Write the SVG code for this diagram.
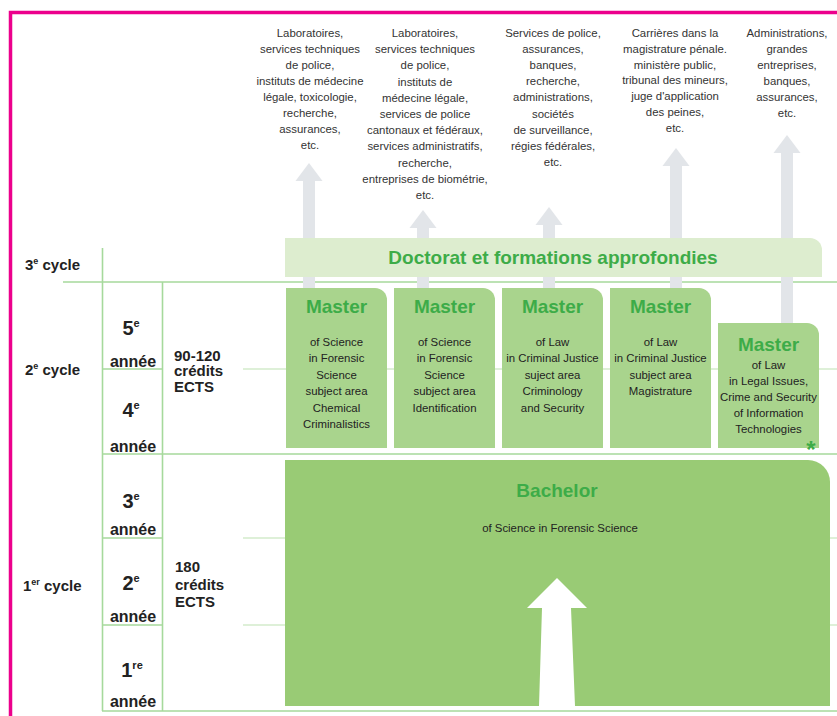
<svg xmlns="http://www.w3.org/2000/svg" width="837" height="716" viewBox="0 0 837 716">
<defs>
<style>
text{font-family:"Liberation Sans",Arial,sans-serif;}
.top{font-size:11.4px;fill:#333;text-anchor:middle;}
.mb{font-size:11.4px;fill:#222;text-anchor:middle;}
.mt{font-size:19px;font-weight:bold;fill:#3dac48;text-anchor:middle;}
.cy{font-size:15px;font-weight:bold;fill:#222;}
.yr{font-size:20px;font-weight:bold;fill:#222;text-anchor:middle;}
.an{font-size:16px;font-weight:bold;fill:#222;text-anchor:middle;}
.cr{font-size:15px;font-weight:bold;fill:#222;}
.grid{stroke:#a6d99c;stroke-width:1.6;fill:none;}
.faint{stroke:#d3ebcc;stroke-width:1.5;fill:none;}
.garrow{fill:#e2e5e9;}
.master{fill:#a9d48d;}
</style>
</defs>
<rect x="0" y="0" width="837" height="716" fill="#ffffff"/>
<path d="M10.5 716 V12.5 H837" stroke="#ec008c" stroke-width="3.5" fill="none"/>

<g id="grid">
<path class="faint" d="M243 369 H837 M243 538 H837 M243 625 H837"/>
<path class="grid" d="M102.5 248 V711 M162.5 282 V711"/>
<path class="grid" d="M63 282 H837 M102 454 H837 M102 711 H837"/>
<path class="grid" d="M102 369 H162 M102 538 H162 M102 625 H162"/>
</g>

<g id="connectors">
<polygon class="garrow" points="309,163 322.5,181 315,181 315,300 303,300 303,181 295.5,181"/>
<polygon class="garrow" points="423,210 436.5,228 429,228 429,300 417,300 417,228 409.5,228"/>
<polygon class="garrow" points="549,207 562.5,225 555,225 555,300 543,300 543,225 535.5,225"/>
<polygon class="garrow" points="676,148 689.5,166 682,166 682,300 670,300 670,166 662.5,166"/>
<polygon class="garrow" points="787,135 800.5,153 793,153 793,330 781,330 781,153 773.5,153"/>
</g>

<g id="doctorat">
<path d="M285 238 H810 A12 12 0 0 1 822 250 V277 H285 Z" fill="#ddedcf"/>
<text x="553" y="264" class="mt">Doctorat et formations approfondies</text>
</g>

<g id="master1">
<path class="master" d="M286 288 H375 A12 12 0 0 1 387 300 V448 H286 Z"/>
<text x="336.5" y="313" class="mt">Master</text>
<text class="mb" y="346"><tspan x="336.5">of Science</tspan><tspan x="336.5" dy="16.4">in Forensic</tspan><tspan x="336.5" dy="16.4">Science</tspan><tspan x="336.5" dy="16.4">subject area</tspan><tspan x="336.5" dy="16.4">Chemical</tspan><tspan x="336.5" dy="16.4">Criminalistics</tspan></text>
</g>
<g id="master2">
<path class="master" d="M394 288 H483 A12 12 0 0 1 495 300 V448 H394 Z"/>
<text x="444.5" y="313" class="mt">Master</text>
<text class="mb" y="346"><tspan x="444.5">of Science</tspan><tspan x="444.5" dy="16.4">in Forensic</tspan><tspan x="444.5" dy="16.4">Science</tspan><tspan x="444.5" dy="16.4">subject area</tspan><tspan x="444.5" dy="16.4">Identification</tspan></text>
</g>
<g id="master3">
<path class="master" d="M502 288 H591 A12 12 0 0 1 603 300 V448 H502 Z"/>
<text x="552.5" y="313" class="mt">Master</text>
<text class="mb" y="346"><tspan x="552.5">of Law</tspan><tspan x="552.5" dy="16.4">in Criminal Justice</tspan><tspan x="552.5" dy="16.4">suject area</tspan><tspan x="552.5" dy="16.4">Criminology</tspan><tspan x="552.5" dy="16.4">and Security</tspan></text>
</g>
<g id="master4">
<path class="master" d="M610 288 H699 A12 12 0 0 1 711 300 V448 H610 Z"/>
<text x="660.5" y="313" class="mt">Master</text>
<text class="mb" y="346"><tspan x="660.5">of Law</tspan><tspan x="660.5" dy="16.4">in Criminal Justice</tspan><tspan x="660.5" dy="16.4">subject area</tspan><tspan x="660.5" dy="16.4">Magistrature</tspan></text>
</g>
<g id="master5">
<path class="master" d="M718 323 H807 A12 12 0 0 1 819 335 V448 H718 Z"/>
<text x="768.5" y="351" class="mt">Master</text>
<text class="mb" y="369"><tspan x="768.5">of Law</tspan><tspan x="768.5" dy="16">in Legal Issues,</tspan><tspan x="768.5" dy="16">Crime and Security</tspan><tspan x="768.5" dy="16">of Information</tspan><tspan x="768.5" dy="16">Technologies</tspan></text>
<text x="811" y="458" font-size="24" font-weight="bold" fill="#3dac48" text-anchor="middle">*</text>
</g>

<g id="bachelor">
<path d="M285 460 H808 A22 22 0 0 1 830 482 V706 H285 Z" fill="#99cb75"/>
<polygon points="557,578 587,608 571,608 575,706 539,706 542,608 527,608" fill="#ffffff"/>
<text x="557" y="497" class="mt">Bachelor</text>
<text x="560" y="532" class="mb">of Science in Forensic Science</text>
</g>

<g id="careers">
<text class="top" y="37"><tspan x="310">Laboratoires,</tspan><tspan x="310" dy="16">services techniques</tspan><tspan x="310" dy="16">de police,</tspan><tspan x="310" dy="16">instituts de médecine</tspan><tspan x="310" dy="16">légale, toxicologie,</tspan><tspan x="310" dy="16">recherche,</tspan><tspan x="310" dy="16">assurances,</tspan><tspan x="310" dy="16">etc.</tspan></text>
<text class="top" y="37"><tspan x="425">Laboratoires,</tspan><tspan x="425" dy="16.2">services techniques</tspan><tspan x="425" dy="16.2">de police,</tspan><tspan x="425" dy="16.2">instituts de</tspan><tspan x="425" dy="16.2">médecine légale,</tspan><tspan x="425" dy="16.2">services de police</tspan><tspan x="425" dy="16.2">cantonaux et fédéraux,</tspan><tspan x="425" dy="16.2">services administratifs,</tspan><tspan x="425" dy="16.2">recherche,</tspan><tspan x="425" dy="16.2">entreprises de biométrie,</tspan><tspan x="425" dy="16.2">etc.</tspan></text>
<text class="top" y="37"><tspan x="553">Services de police,</tspan><tspan x="553" dy="16.1">assurances,</tspan><tspan x="553" dy="16.1">banques,</tspan><tspan x="553" dy="16.1">recherche,</tspan><tspan x="553" dy="16.1">administrations,</tspan><tspan x="553" dy="16.1">sociétés</tspan><tspan x="553" dy="16.1">de surveillance,</tspan><tspan x="553" dy="16.1">régies fédérales,</tspan><tspan x="553" dy="16.1">etc.</tspan></text>
<text class="top" y="37"><tspan x="675">Carrières dans la</tspan><tspan x="675" dy="15.8">magistrature pénale.</tspan><tspan x="675" dy="15.8">ministère public,</tspan><tspan x="675" dy="15.8">tribunal des mineurs,</tspan><tspan x="675" dy="15.8">juge d'application</tspan><tspan x="675" dy="15.8">des peines,</tspan><tspan x="675" dy="15.8">etc.</tspan></text>
<text class="top" y="37"><tspan x="787">Administrations,</tspan><tspan x="787" dy="16">grandes</tspan><tspan x="787" dy="16">entreprises,</tspan><tspan x="787" dy="16">banques,</tspan><tspan x="787" dy="16">assurances,</tspan><tspan x="787" dy="16">etc.</tspan></text>
</g>

<g id="cycles">
<text x="25" y="270" class="cy">3<tspan font-size="9" dy="-6">e</tspan><tspan dy="6"> cycle</tspan></text>
<text x="25" y="375" class="cy">2<tspan font-size="9" dy="-6">e</tspan><tspan dy="6"> cycle</tspan></text>
<text x="23" y="591" class="cy">1<tspan font-size="9" dy="-6">er</tspan><tspan dy="6"> cycle</tspan></text>
</g>

<g id="years">
<text x="131" y="335" class="yr">5<tspan font-size="11" dy="-8">e</tspan></text>
<text x="133" y="367" class="an">année</text>
<text x="131" y="417" class="yr">4<tspan font-size="11" dy="-8">e</tspan></text>
<text x="133" y="452" class="an">année</text>
<text x="131" y="508" class="yr">3<tspan font-size="11" dy="-8">e</tspan></text>
<text x="133" y="535" class="an">année</text>
<text x="131" y="590" class="yr">2<tspan font-size="11" dy="-8">e</tspan></text>
<text x="133" y="622" class="an">année</text>
<text x="132" y="677" class="yr">1<tspan font-size="11" dy="-8">re</tspan></text>
<text x="133" y="707" class="an">année</text>
</g>

<g id="credits">
<text class="cr" y="361"><tspan x="174">90-120</tspan><tspan x="174" dy="15.3">crédits</tspan><tspan x="174" dy="15.3">ECTS</tspan></text>
<text class="cr" y="572"><tspan x="175">180</tspan><tspan x="175" dy="17.5">crédits</tspan><tspan x="175" dy="17.5">ECTS</tspan></text>
</g>
</svg>
